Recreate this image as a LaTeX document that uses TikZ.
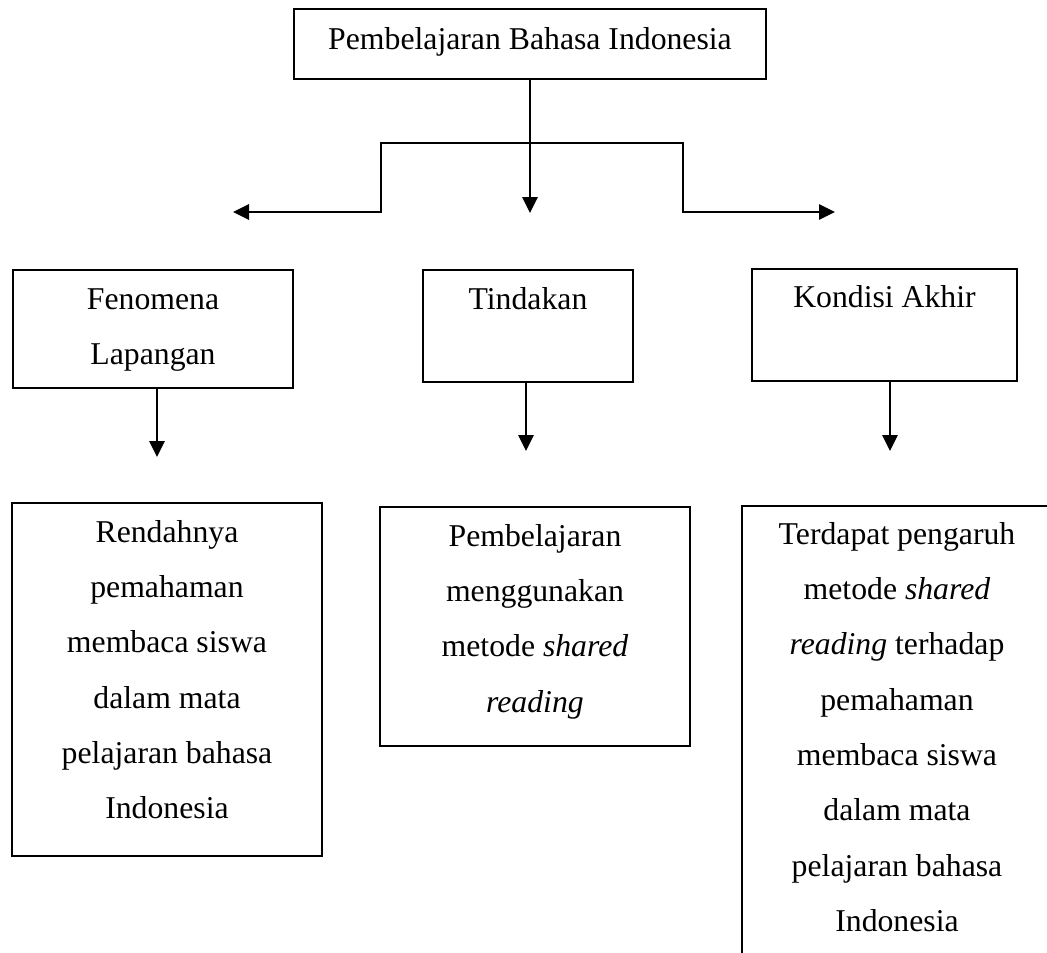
\documentclass[tikz,border=0pt]{standalone}
\usepackage{fontspec}
\setmainfont{Liberation Serif}
\usetikzlibrary{arrows.meta}
\begin{document}
\begin{tikzpicture}[x=0.75pt,y=-0.75pt,
  txt/.style={font=\fontsize{23.8pt}{41.5pt}\selectfont},
  boxnode/.style={draw, line width=1.5pt, inner sep=0pt},
  boxtext/.style={txt, align=center, inner sep=0pt, anchor=north},
  conn/.style={line width=1.7pt},
  tip/.style={-{Triangle[length=12pt,width=11.5pt]}},
  bothtip/.style={{Triangle[length=12pt,width=11.5pt]}-{Triangle[length=12pt,width=11.5pt]}}
]
\useasboundingbox (0,0) rectangle (1047,953);
\clip (0,0) rectangle (1047,953);

% top box
\node[boxnode, minimum width=354pt, minimum height=52.5pt] (top) at (530,44) {};
\node[txt, anchor=base, inner sep=0pt] (toptext) at (530,50) {Pembelajaran Bahasa Indonesia};

% middle row
\node[boxnode, minimum width=210pt, minimum height=88.5pt] (fen) at (153,329) {};
\node[boxtext] (fentext) at (fen.north) {\rule{0pt}{30pt}Fenomena\\Lapangan};

\node[boxnode, minimum width=157.5pt, minimum height=84pt] (tin) at (528,326) {};
\node[boxtext] (tintext) at (tin.north) {\rule{0pt}{30pt}Tindakan};

\node[boxnode, minimum width=198.75pt, minimum height=84pt] (kon) at (884.5,325) {};
\node[boxtext] (kontext) at (kon.north) {\rule{0pt}{29.25pt}Kondisi Akhir};

% bottom row
\node[boxnode, minimum width=232.5pt, minimum height=264.75pt] (ren) at (167,679.5) {};
\node[boxtext] (rentext) at (ren.north) {\rule{0pt}{30pt}Rendahnya\\pemahaman\\membaca siswa\\dalam mata\\pelajaran bahasa\\Indonesia};

\node[boxnode, minimum width=232.5pt, minimum height=179.25pt] (pem) at (535,626.5) {};
\node[boxtext] (pemtext) at (pem.north) {\rule{0pt}{30pt}Pembelajaran\\menggunakan\\metode \textit{shared}\\\textit{reading}};

\node[boxnode, minimum width=232.5pt, minimum height=355.5pt] (ter) at (897,743) {};
\node[boxtext] (tertext) at (ter.north) {\rule{0pt}{29.25pt}Terdapat pengaruh\\metode \textit{shared}\\\textit{reading} terhadap\\pemahaman\\membaca siswa\\dalam mata\\pelajaran bahasa\\Indonesia};

% branching connector
\coordinate (bm) at (530,143);
\coordinate (bl) at (381,143);
\coordinate (br) at (683,143);
\coordinate (l2) at (381,212);
\coordinate (lt) at (233,212);
\coordinate (r2) at (683,212);
\coordinate (rt) at (835,212);
\coordinate (ct) at (530,213);
\draw[line width=1.1pt] (top.south) -- (bm);
\draw[conn, bothtip] (lt) -- (l2) -- (bl) -- (br) -- (r2) -- (rt);
\draw[conn, tip] (bm) -- (ct);

% down arrows
\coordinate (fa) at (157,457);
\coordinate (ta) at (526,451);
\coordinate (ka) at (890,451);
\draw[conn, tip] (fen.south -| fa) -- (fa);
\draw[conn, tip] (tin.south -| ta) -- (ta);
\draw[conn, tip] (kon.south -| ka) -- (ka);
\end{tikzpicture}
\end{document}
